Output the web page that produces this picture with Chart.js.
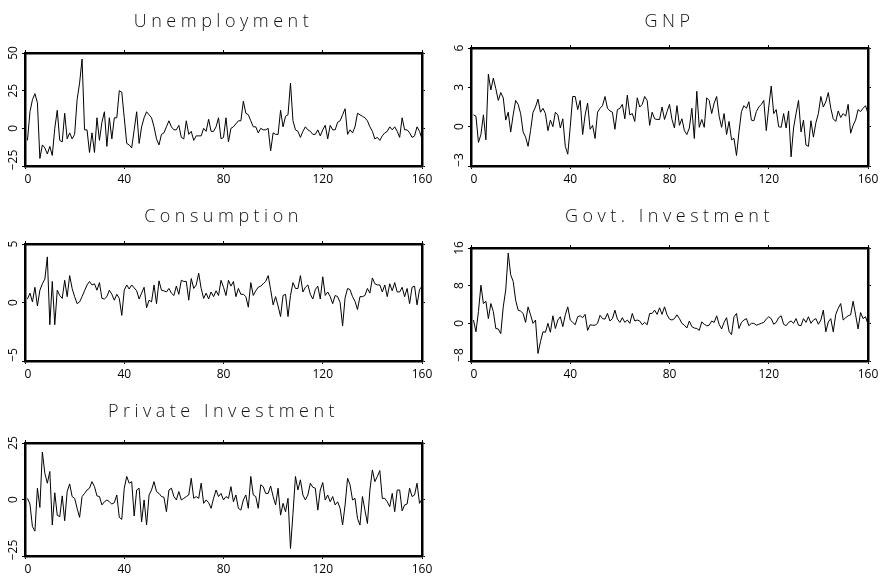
<!DOCTYPE html>
<html>
<head>
<meta charset="utf-8">
<script src="https://cdn.jsdelivr.net/npm/chart.js@4"></script>
<style>
  html, body { margin: 0; padding: 0; background: #fff; }
  body { width: 887px; height: 578px; position: relative; overflow: hidden; }
  canvas { position: absolute; }
  .title {
    position: absolute; width: 397px; height: 22px; line-height: 22px;
    text-align: center; color: #111; will-change: transform;
    font: 300 18px "Open Sans", "DejaVu Sans", sans-serif; letter-spacing: 4.5px;
  }
</style>
</head>
<body>
<div class="title" style="left:25px; top:8px">Unemployment</div>
<div class="title" style="left:471px; top:8px">GNP</div>
<div class="title" style="left:25px; top:203px">Consumption</div>
<div class="title" style="left:471px; top:203px">Govt. Investment</div>
<div class="title" style="left:25px; top:398px">Private Investment</div>
<canvas id="unemp" width="440" height="156" style="left:0; top:36px"></canvas>
<canvas id="gnp" width="440" height="156" style="left:446px; top:36px"></canvas>
<canvas id="cons" width="440" height="156" style="left:0; top:231px"></canvas>
<canvas id="govt" width="440" height="156" style="left:446px; top:231px"></canvas>
<canvas id="priv" width="440" height="156" style="left:0; top:426px"></canvas>
<script>
// quarterly observations 1..160
const periods = Array.from({ length: 160 }, (_, i) => i + 1);

const unemployment = [
  -8, 11, 19, 23, 17, -20, -11, -13, -17, -12,
  -18, 0, 12, -8, -9, 10, -7, -3, -7, -4,
  19, 30, 46, -1, -1, -16, -3, -16, 7, -8,
  4, 11, -12, 7, -7, 7, 7, 25, 24, 7,
  -10, -11, -13, -1, 11, -10, 1, 7, 11, 9,
  7, 1, -7, -11, -4, -3, 1, 5, 1, -1,
  -1, 2, -6, -7, 5, -4, -2, -8, -5, -5,
  -5, 0, -2, 6, -2, -2, 1, 7, -7, -6,
  7, -9, 0, 1, 3, 5, 5, 18, 10, 9,
  5, 1, 1, -3, 0, -1, -1, 0, -15, -3,
  -4, -4, 12, 1, 8, 9, 30, 5, -1, -2,
  -6, -2, 1, -1, -2, -4, -4, -1, -5, -1,
  2, -7, 2, -1, -1, 4, 5, 9, 13, -4,
  -1, -3, 1, 10, 9, 8, 7, 5, 1, -2,
  -7, -6, -8, -5, -3, -2, 1, -1, 1, -2,
  -6, 7, -1, -1, -3, -6, -5, 1, -2, -7
];

const gnp = [
  0.9, 0.8, -1.2, -0.6, 0.9, -1.0, 4.0, 2.8, 3.7, 2.9,
  2.0, 2.6, 2.2, 0.5, 1.1, -0.4, 0.9, 2.0, 1.7, 1.0,
  -0.4, -0.8, -1.5, -0.3, 1.1, 1.5, 2.1, 1.1, 1.4, 1.0,
  -0.3, 0.5, 0.0, 1.1, 0.9, -0.1, 0.6, -1.5, -2.1, 0.0,
  2.3, 2.3, 1.3, 2.0, -0.6, 0.9, 1.8, -0.2, 0.1, -0.9,
  1.1, 1.4, 1.6, 2.3, 1.4, 1.2, 1.1, -0.2, 1.3, 1.4,
  1.7, 0.6, 2.4, 0.9, 1.0, 0.4, 2.2, 1.5, 1.7, 2.3,
  2.0, 0.1, 1.1, 0.6, 0.55, 0.55, 1.5, 0.55, 1.15, 1.7,
  0.55, -0.1, 1.6, 0.1, 0.6, -0.3, -0.6, -0.1, 1.4, -0.9,
  2.7, -0.05, 0.55, -0.05, 2.2, 2.0, 1.0, 1.8, 2.3, 0.8,
  -0.05, 1.0, -0.6, 0.4, -1.0, -0.9, -2.2, -0.4, 1.15, 1.6,
  1.4, 1.9, 0.5, 0.45, 1.15, 1.5, 1.7, 2.0, -0.3, 1.5,
  3.1, 1.0, 1.3, 0.0, -0.05, 1.0, -0.1, 1.2, -2.3, -0.1,
  1.0, 2.0, -0.4, 0.5, -1.4, -1.5, 0.45, -0.8, 0.3, 1.0,
  2.3, 1.5, 1.9, 2.6, 1.4, 0.6, 0.4, 1.2, 0.7, 1.0,
  0.8, 1.7, -0.5, 0.1, 0.5, 1.3, 1.15, 1.4, 1.6, 1.0
];

const consumption = [
  0.3, 0.8, 0.05, 1.3, -0.3, 1.05, 1.6, 2.0, 3.9, -1.9,
  1.8, -1.9, 1.05, 0.6, 0.35, 1.9, 0.5, 2.3, 1.2, 0.5,
  -0.1, 0.05, 0.5, 1.0, 1.5, 1.8, 1.5, 1.6, 1.05, 1.7,
  0.35, 0.3, 0.5, 1.05, 0.7, 0.2, 0.7, 0.35, -1.1, 1.05,
  1.5, 1.15, 1.5, 1.25, 1.0, 0.3, 0.8, 1.3, -0.45, 0.2,
  0.05, 1.5, -0.1, 1.85, 1.05, 1.0, 0.9, 1.2, 0.8, 0.6,
  1.4, 0.7, 1.9, 1.8, 1.8, 0.2, 2.05, 1.2, 1.5, 2.5,
  1.2, 0.35, 0.8, 0.3, 0.9, 0.5, 1.0, 0.6, 1.9, 1.3,
  0.6, 1.9, 1.4, 1.8, 0.5, 1.2, 0.7, 0.7, 0.5, -0.4,
  1.7, 0.6, 1.0, 1.3, 1.4, 1.6, 1.8, 2.3, 1.1, -0.2,
  0.5, -0.3, -1.2, 0.6, 0.7, -1.2, 0.6, 1.7, 1.2, 1.2,
  2.3, 0.9, 1.3, 1.5, 0.7, 0.3, 1.1, 1.4, 0.3, 2.2,
  0.6, 0.9, 0.5, -0.1, 0.6, 0.5, 0.0, -2.0, 0.4, 1.2,
  1.1, 0.5, 0.1, -0.6, 0.5, 0.5, 0.6, 1.2, 0.8, 2.1,
  1.6, 1.5, 1.5, 0.9, 1.5, 0.5, 1.6, 1.0, 1.7, 0.9,
  0.9, 1.3, 0.5, 1.2, -0.1, 1.3, 1.4, -0.2, 1.1, 1.4
];

const govtInvestment = [
  0.7, -1.8, 2.5, 8.1, 4.2, 4.7, 1.0, 4.2, 2.5, -1.1,
  -1.2, -2.2, 3.5, 7.1, 14.9, 10.3, 8.9, 4.9, 2.8, 2.6,
  2.1, 0.2, 3.5, 1.8, 0, 0.7, -6.4, -3.9, -1.8, -1.9,
  0, -1.9, 1.6, -1.1, 0.7, 1.4, -0.7, 1.8, 3.5, 0.7,
  0.2, -0.3, 1.4, 1.6, 1.2, 1.9, -1.5, -0.3, -0.4, -0.4,
  0, 1.7, 1.0, 0.9, 2.1, 0.5, 1.0, 2.8, 0.9, 0.2,
  1.2, 0.2, 0.7, 0, 2.1, 0.5, 0.7, 0.5, -0.3, 0.2,
  -0.3, 2.1, 2.1, 2.8, 1.9, 3.3, 1.9, 3.5, 1.8, 0.9,
  0.7, 1.0, 1.8, 1.0, 0, -0.4, -1.0, 0.5, -0.7, -1.0,
  -1.1, -1.5, 0.3, -0.2, -0.5, -0.4, 0.5, 0.2, 1.6, -0.2,
  -1.2, 0.2, 1.2, -1.7, -2.4, 1.4, 2.1, -1.1, 0.2, 0.7,
  1.0, -0.5, 0, 0, -0.4, -0.2, 0, 0.2, 0.9, 1.4,
  1.0, -0.2, 0.2, 1.2, 1.6, -0.2, -0.5, 0.2, 0.5, 0,
  1.0, -0.4, -0.5, 1.0, 0.2, 1.4, 0, 0.7, 1.0, -0.2,
  0.7, 2.8, -1.8, 0.3, 1.0, -1.8, 1.9, 3.2, 4.2, 0.7,
  1.2, 1.6, 1.8, 4.7, 1.8, -1.2, 2.3, 1.0, 1.4, -0.2
];

const privateInvestment = [
  0.5, -2, -12, -14, 5, -3.5, 21, 11.6, 7.2, 12.4,
  -11.3, 3, -7, -7.6, 1.6, -9.4, 3.5, 6.9, 1.3, 0.5,
  -3.9, -7.9, 1.3, 2.7, 4.2, 5, 7.9, 5.7, 1.6, 1.3,
  -2.4, -1, -0.2, -1, -2, -1.4, 2, -7.9, -8.8, 5,
  10.2, 7.2, 7.9, -7.3, 4.2, 5, -9.9, -0.2, -11.3, 2,
  4.2, 7.9, 3.5, 2.7, 1.3, 1.0, -5.4, 4.2, 5, 1.3,
  -0.2, 3.5, -0.2, 0.5, 1.3, 2, 9.4, 0.5, 1.3, 0.5,
  7.2, -1.7, -0.2, -1.4, -3.9, 0.5, 4.2, 1.3, 2.7, -0.2,
  1.3, 0.5, 5.7, -1, 2, -3.9, -4.7, -0.2, 2, -3.9,
  10.2, 2, 1.3, -3.9, 6.5, 5.7, 2.7, 2.7, 6, 1.3,
  -2.4, 5, -6.9, -1.7, -5.4, 0.5, -21.7, -6.2, 10.2, 4.2,
  8.7, 2, -0.2, 2, 7.2, 5.4, 5, -4.7, 4.2, 7.5,
  -0.2, 2, -1, 1.3, -2.4, -1, -3.9, -11.3, -2.4, 9.4,
  6.5, -0.2, 0.5, -8.4, -11.3, 1.3, -4.7, -10.6, 4.2, 13.1,
  7.9, 10.2, 12.8, 0.5, 0.5, -1, -3.2, 2.7, -5.4, 4.2,
  4.2, -5, -2.4, -2, 5, 1.3, 2, 7.2, -1.7, 0.1
];

const xTicks = [0, 40, 80, 120, 160];
const unemploymentTicks = [-25, 0, 25, 50];
const gnpTicks = [-3, 0, 3, 6];
const consumptionTicks = [-5, 0, 5];
const govtTicks = [-8, 0, 8, 16];
const privateTicks = [-25, 0, 25];

const panels = [
  { id: 'unemp', values: unemployment, yTicks: unemploymentTicks, padTop: 17 },
  { id: 'gnp', values: gnp, yTicks: gnpTicks, padTop: 12 },
  { id: 'cons', values: consumption, yTicks: consumptionTicks, padTop: 13 },
  { id: 'govt', values: govtInvestment, yTicks: govtTicks, padTop: 17 },
  { id: 'priv', values: privateInvestment, yTicks: privateTicks, padTop: 17 }
];

const FONT_FAMILY = '"Open Sans", "DejaVu Sans", sans-serif';
const tickFont = { family: FONT_FAMILY, size: 12, weight: 400 };
const Y_AXIS_W = 25;
const TICK_LEN = 3;
const LABEL_CENTER = 14;

const fmt = v => (v < 0 ? '\u2212' + Math.abs(v) : String(v));
// the lowest y label sits a little above its tick
const yLabel = (v, i) => (i === 0 ? '\u2002\u2002' : '') + fmt(v);

const meas = document.createElement('canvas').getContext('2d');
meas.font = `400 12px ${FONT_FAMILY}`;
function yPadding(ticks) {
  const widest = Math.max(...ticks.map((v, i) => meas.measureText(yLabel(v, i)).width));
  return Y_AXIS_W - TICK_LEN - LABEL_CENTER - widest / 2;
}

const frame = { display: true, color: '#000', width: 2.5 };
const tickMarks = { display: true, drawOnChartArea: false, drawTicks: true, tickLength: TICK_LEN, color: '#000', lineWidth: 1 };
const setTicks = list => scale => { scale.ticks = list.map(v => ({ value: v })); };

function makeChart(p) {
  const yMin = p.yTicks[0];
  const yMax = p.yTicks[p.yTicks.length - 1];
  return new Chart(document.getElementById(p.id), {
    type: 'line',
    data: {
      datasets: [{
        data: periods.map((t, i) => ({ x: t, y: p.values[i] })),
        xAxisID: 'x', yAxisID: 'y',
        borderColor: '#000', borderWidth: 1, pointRadius: 0, tension: 0, fill: false
      }]
    },
    options: {
      responsive: false, animation: false, events: [],
      layout: { padding: { left: 0, right: 18, top: p.padTop, bottom: 0 } },
      plugins: { legend: { display: false }, tooltip: { enabled: false }, title: { display: false } },
      scales: {
        x: {
          type: 'linear', position: 'bottom', min: 0, max: 160,
          afterBuildTicks: setTicks(xTicks),
          grid: tickMarks, border: frame,
          ticks: {
            color: '#000', font: tickFont, padding: 3, maxRotation: 0, autoSkip: false,
            callback: v => (v === 0 ? '\u2002' : '') + fmt(v)
          },
          afterFit: s => { s.height = 26; }
        },
        xTop: {
          type: 'linear', position: 'top', min: 0, max: 160,
          afterBuildTicks: setTicks(xTicks),
          grid: tickMarks, border: frame, ticks: { display: false },
          afterFit: s => { s.height = 0; }
        },
        y: {
          type: 'linear', position: 'left', min: yMin, max: yMax,
          afterBuildTicks: setTicks(p.yTicks),
          grid: tickMarks, border: frame,
          ticks: {
            color: '#000', font: tickFont, minRotation: 90, maxRotation: 90,
            crossAlign: 'center', padding: yPadding(p.yTicks), autoSkip: false,
            callback: yLabel
          },
          afterFit: s => { s.width = Y_AXIS_W; }
        },
        yRight: {
          type: 'linear', position: 'right', min: yMin, max: yMax,
          afterBuildTicks: setTicks(p.yTicks),
          grid: tickMarks, border: frame, ticks: { display: false },
          afterFit: s => { s.width = 0; }
        }
      }
    }
  });
}

panels.forEach(makeChart);
</script>
</body>
</html>
